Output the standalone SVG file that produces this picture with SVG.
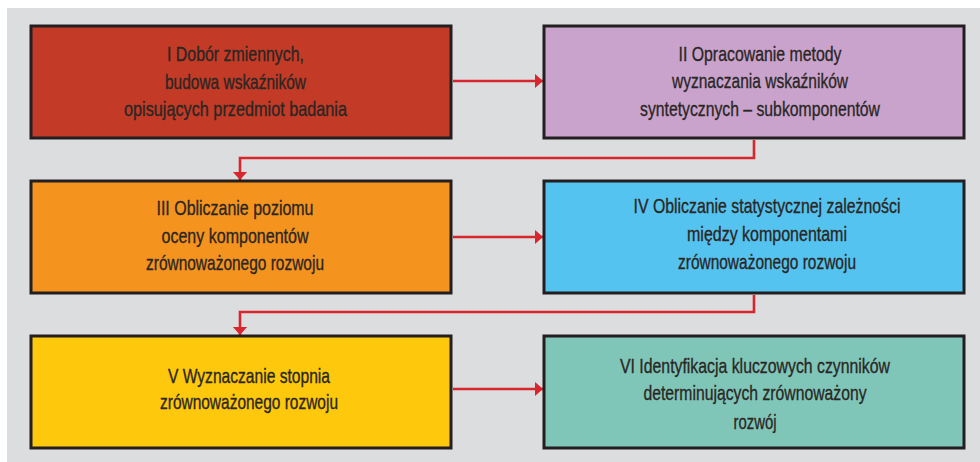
<svg xmlns="http://www.w3.org/2000/svg" width="980" height="462" viewBox="0 0 980 462">
<defs>
<style>
.box{stroke:#231f20;stroke-width:3}
.t{font-family:"Liberation Sans",Arial,sans-serif;font-size:21px;fill:#2a2624;stroke:#2a2624;stroke-width:0.35;text-anchor:middle}
.c{fill:none;stroke:#d7262e;stroke-width:2.6}
</style>
<marker id="ah" markerUnits="userSpaceOnUse" markerWidth="10" markerHeight="16" refX="8.5" refY="7.5" orient="auto">
<path d="M0,0 L8.5,7.5 L0,15 z" fill="#d7262e"/>
</marker>
</defs>
<rect x="0" y="0" width="980" height="462" fill="#ffffff"/>
<rect x="7" y="8" width="973" height="454" fill="#dcdddf"/>
<g id="connectors">
<path class="c" d="M453,81 H543" marker-end="url(#ah)"/>
<path class="c" d="M754,140 V158 H240 V180" marker-end="url(#ah)"/>
<path class="c" d="M453,237 H543" marker-end="url(#ah)"/>
<path class="c" d="M754,295 V312 H240 V335" marker-end="url(#ah)"/>
<path class="c" d="M453,389 H543" marker-end="url(#ah)"/>
</g>
<g id="node1">
<rect class="box" x="31" y="26" width="420" height="112" fill="#c33b26"/>
<text class="t" x="235.5" y="61" textLength="137" lengthAdjust="spacingAndGlyphs">I Dobór zmiennych,</text>
<text class="t" x="235.5" y="88.5" textLength="141" lengthAdjust="spacingAndGlyphs">budowa wskaźników</text>
<text class="t" x="235.5" y="116" textLength="223" lengthAdjust="spacingAndGlyphs">opisujących przedmiot badania</text>
</g>
<g id="node2">
<rect class="box" x="544" y="26" width="420" height="112" fill="#c9a3cc"/>
<text class="t" x="760" y="61" textLength="163" lengthAdjust="spacingAndGlyphs">II Opracowanie metody</text>
<text class="t" x="760" y="88" textLength="176" lengthAdjust="spacingAndGlyphs">wyznaczania wskaźników</text>
<text class="t" x="760" y="116" textLength="240" lengthAdjust="spacingAndGlyphs">syntetycznych – subkomponentów</text>
</g>
<g id="node3">
<rect class="box" x="31" y="181" width="420" height="112" fill="#f5931f"/>
<text class="t" x="235" y="215" textLength="157" lengthAdjust="spacingAndGlyphs">III Obliczanie poziomu</text>
<text class="t" x="235" y="242.5" textLength="147" lengthAdjust="spacingAndGlyphs">oceny komponentów</text>
<text class="t" x="235" y="270" textLength="178" lengthAdjust="spacingAndGlyphs">zrównoważonego rozwoju</text>
</g>
<g id="node4">
<rect class="box" x="544" y="181" width="420" height="112" fill="#55c3ef"/>
<text class="t" x="767" y="213" textLength="267" lengthAdjust="spacingAndGlyphs">IV Obliczanie statystycznej zależności</text>
<text class="t" x="767" y="240.5" textLength="160" lengthAdjust="spacingAndGlyphs">między komponentami</text>
<text class="t" x="767" y="268.5" textLength="178" lengthAdjust="spacingAndGlyphs">zrównoważonego rozwoju</text>
</g>
<g id="node5">
<rect class="box" x="31" y="336" width="420" height="112" fill="#fec80c"/>
<text class="t" x="249" y="382.5" textLength="162" lengthAdjust="spacingAndGlyphs">V Wyznaczanie stopnia</text>
<text class="t" x="249" y="409" textLength="178" lengthAdjust="spacingAndGlyphs">zrównoważonego rozwoju</text>
</g>
<g id="node6">
<rect class="box" x="544" y="336" width="420" height="112" fill="#7fc6b9"/>
<text class="t" x="755" y="373" textLength="270" lengthAdjust="spacingAndGlyphs">VI Identyfikacja kluczowych czynników</text>
<text class="t" x="755" y="400" textLength="223" lengthAdjust="spacingAndGlyphs">determinujących zrównoważony</text>
<text class="t" x="755" y="428.5" textLength="43" lengthAdjust="spacingAndGlyphs">rozwój</text>
</g>
</svg>
